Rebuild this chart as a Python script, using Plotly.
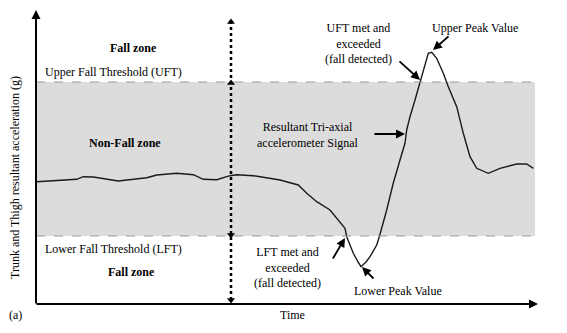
import plotly.graph_objects as go

# Signal (time in arbitrary units, resultant acceleration in arbitrary units)
time = [0.7, 14, 40.7, 47.3, 57.3, 82.3, 110.7, 120.7, 140.7, 157.3, 167.3, 180.7, 194, 200.7,
        217.3, 244, 262.3, 270.7, 280.7, 294, 304, 309, 310.7, 317.3, 322, 325, 330, 334, 340.7,
        343.3, 350.7, 357.3, 364, 369, 370.7, 374, 379, 384, 389, 392.3, 395.7, 400.7, 407.3,
        412.3, 420.7, 427.3, 434, 440.7, 452.3, 464, 480.7, 490.7, 497.3]
acc = [122.3, 123, 124.7, 127.3, 127, 123, 126.3, 129, 130.7, 129.3, 124.7, 124.3, 128.3, 129.3,
       128.3, 124, 119, 110.7, 102.3, 94, 82.3, 75.7, 67.3, 50.7, 42, 37.3, 42, 47.3, 59,
       67.3, 94, 121, 144, 160.7, 174, 187.3, 204, 222.3, 240.7, 250.7, 251.7, 245.7, 230.7,
       217.3, 197.3, 170.7, 147.3, 135.7, 130.7, 135.7, 140, 140, 135.7]

UFT = 222
LFT = 68
T_END = 499
T_AXIS_END = 502
A_AXIS_TOP = 294
T_MARK = 195
MARK_TOP = 282
MARK_BOTTOM = 4

FONT = "'Liberation Serif', 'Times New Roman', Times, serif"

fig = go.Figure()

# shaded non-fall zone and thresholds
fig.add_shape(type="rect", x0=0, x1=T_END, y0=LFT, y1=UFT, fillcolor="#dcdcdc",
              line=dict(width=0), layer="below")
for thr in (UFT, LFT):
    fig.add_shape(type="line", x0=0, x1=T_END, y0=thr, y1=thr,
                  line=dict(color="#9a9a9a", width=1.2, dash="dash"))

# dotted vertical marker
fig.add_shape(type="line", x0=T_MARK, x1=T_MARK, y0=MARK_BOTTOM, y1=MARK_TOP,
              line=dict(color="black", width=2.5, dash="dot"))
fig.add_trace(go.Scatter(x=[T_MARK, T_MARK], y=[MARK_TOP, UFT - 1], mode="markers",
                         marker=dict(symbol="triangle-up", size=7, color="black"),
                         showlegend=False, hoverinfo="skip"))
fig.add_trace(go.Scatter(x=[T_MARK, T_MARK], y=[LFT + 1, MARK_BOTTOM], mode="markers",
                         marker=dict(symbol="triangle-down", size=7, color="black"),
                         showlegend=False, hoverinfo="skip"))

# signal
fig.add_trace(go.Scatter(x=time, y=acc, mode="lines", line=dict(color="#1a1a1a", width=1.4),
                         showlegend=False, hoverinfo="skip"))

ann = []
# axes arrows
ann.append(dict(x=0, y=A_AXIS_TOP, ax=0, ay=-1, axref="x", ayref="y", xref="x", yref="y",
                showarrow=True, arrowhead=2, arrowsize=0.9, arrowwidth=2, arrowcolor="black", text=""))
ann.append(dict(x=T_AXIS_END, y=0, ax=-1, ay=0, axref="x", ayref="y", xref="x", yref="y",
                showarrow=True, arrowhead=2, arrowsize=0.9, arrowwidth=2, arrowcolor="black", text=""))

def label(x, y, text, bold=False, xanchor="center", size=12):
    t = f"<b>{text}</b>" if bold else text
    ann.append(dict(x=x, y=y, xref="x", yref="y", text=t, showarrow=False, xanchor=xanchor,
                    yanchor="middle", font=dict(family=FONT, size=size, color="black")))

label(97, 256, "Fall zone", bold=True)
label(7, 232, "Upper Fall Threshold (UFT)", xanchor="left")
label(89, 161, "Non-Fall zone", bold=True)
label(7, 55, "Lower Fall Threshold (LFT)", xanchor="left")
label(95, 32, "Fall zone", bold=True)
label(-21, -11, "(a)")
label(256, -11, "Time")
label(251, 37, "LFT met and<br>exceeded<br>(fall detected)")
label(362, 13, "Lower Peak Value")
label(322, 261, "UFT met and<br>exceeded<br>(fall detected)")
label(439, 276, "Upper Peak Value")
label(272, 169.5, "Resultant Tri-axial<br>accelerometer Signal")

ann.append(dict(x=-21, y=126, xref="x", yref="y", text="Trunk and Thigh resultant acceleration (g)",
                textangle=-90, showarrow=False, font=dict(family=FONT, size=12, color="black")))

def arrow(tail, tip):
    ann.append(dict(x=tip[0], y=tip[1], ax=tail[0], ay=tail[1], axref="x", ayref="y",
                    xref="x", yref="y", text="", showarrow=True, arrowhead=2, arrowsize=1,
                    arrowwidth=1.8, arrowcolor="black"))

arrow((362, 244), (384, 224))
arrow((414, 269), (397, 254))
arrow((337, 170), (369, 170))
arrow((296, 44), (309, 66))
arrow((339, 24), (326, 37))

fig.update_layout(
    width=567, height=333,
    margin=dict(l=0, r=0, t=0, b=0),
    paper_bgcolor="white", plot_bgcolor="white",
    font=dict(family=FONT),
    xaxis=dict(range=[-36, 531], visible=False, fixedrange=True),
    yaxis=dict(range=[-29, 304], visible=False, fixedrange=True),
    annotations=ann,
    showlegend=False,
)

fig.write_html("out.html")
